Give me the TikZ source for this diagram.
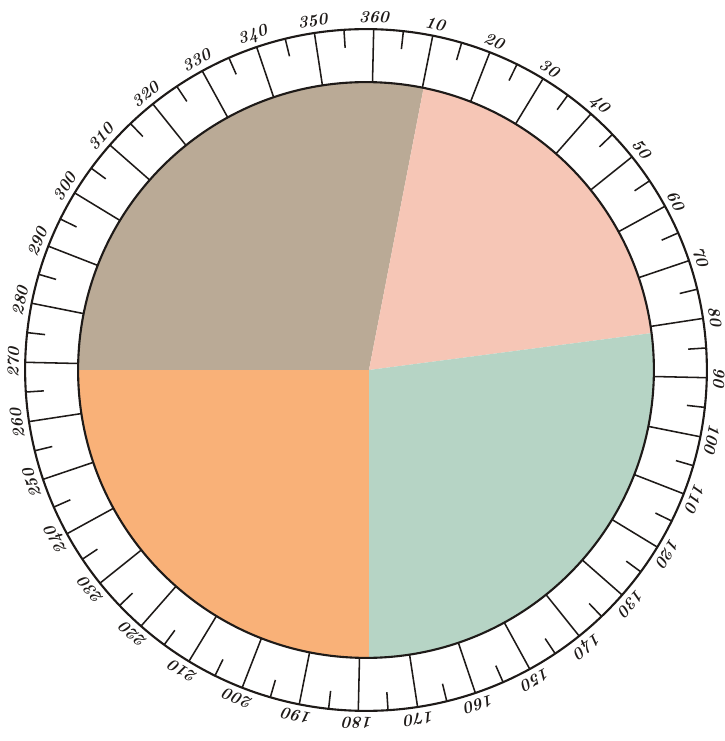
\documentclass[tikz,border=0pt]{standalone}
\usepackage{tikz}
\definecolor{sliceGray}{RGB}{186,170,150}
\definecolor{slicePink}{RGB}{246,198,182}
\definecolor{sliceGreen}{RGB}{182,212,197}
\definecolor{sliceOrange}{RGB}{249,177,120}
\definecolor{inkBlack}{RGB}{30,26,24}

\begin{document}
\begin{tikzpicture}[
  scale=0.025,
  ring/.style={line width=1.5pt, inkBlack},
  tickLong/.style={line width=1.1pt, inkBlack},
  tickShort/.style={line width=1.1pt, inkBlack},
  degLabel/.style={font=\bfseries\itshape\fontsize{12}{12}\selectfont, inkBlack, inner sep=0pt}
]
\useasboundingbox (-366,-371) rectangle (359,370);

% --- Sectores ---
\coordinate (apex) at (3,0);
\begin{scope}
  \clip (0,0) circle (288);
  \fill[sliceGray]   (apex) -- (-500,0) -- (135:500) -- (78.7:500) -- cycle;
  \fill[slicePink]   (apex) -- (78.7:500) -- (45:500) -- (7.4:500) -- cycle;
  \fill[sliceGreen]  (apex) -- (7.4:500) -- (-45:500) -- (3,-500) -- cycle;
  \fill[sliceOrange] (apex) -- (3,-500) -- (-135:500) -- (-500,0) -- cycle;
\end{scope}

% --- Escala de graus ---
\begin{scope}[rotate=-1.3]
  \draw[ring] (0,0) circle (288);
  \draw[ring] (0,0) circle (341);

  \foreach \a in {0,10,...,350}{
    \draw[tickLong] ({90-\a}:288) -- ({90-\a}:341);
  }
  \foreach \a in {5,15,...,355}{
    \draw[tickShort] ({90-\a}:341) -- ({90-\a}:323);
  }
  \foreach \a in {10,20,...,360}{
    \node[degLabel, rotate={-\a-1.3}] (deg\a) at ({90-\a}:353) {\a};
  }
\end{scope}

\end{tikzpicture}
\end{document}
